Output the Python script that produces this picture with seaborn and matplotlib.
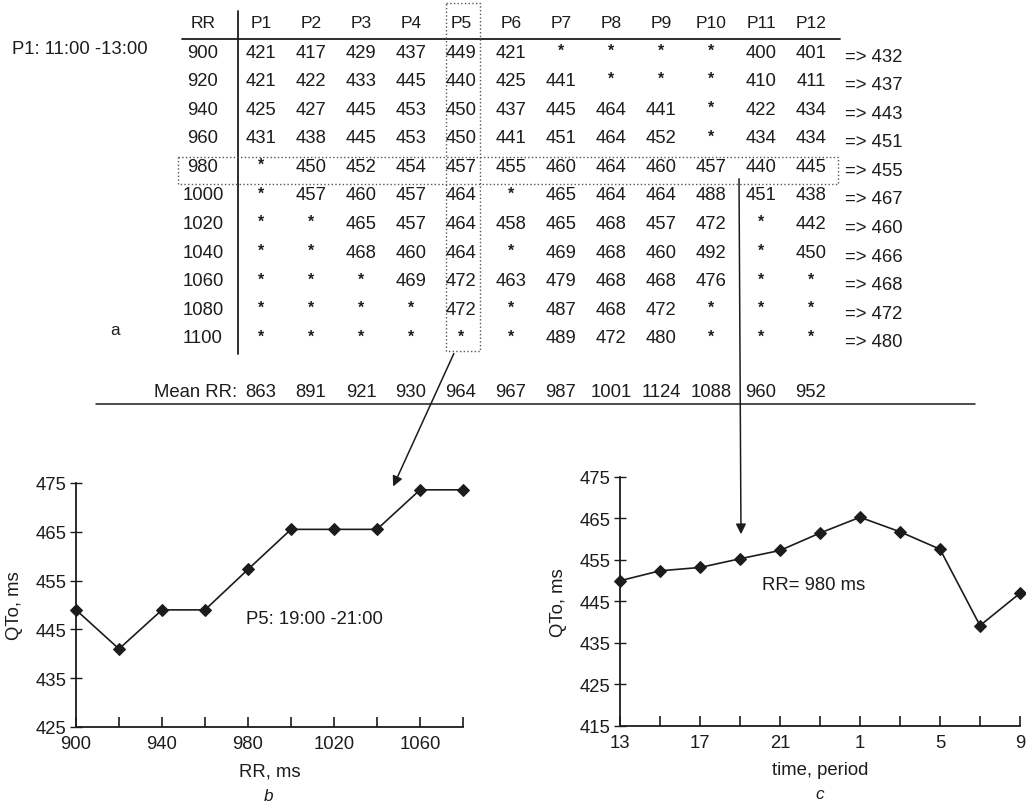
import matplotlib
matplotlib.use("Agg")
import matplotlib.pyplot as plt
import seaborn as sns
import numpy as np
import pandas as pd

# ---------------- data ----------------
rr_levels = [900, 920, 940, 960, 980, 1000, 1020, 1040, 1060, 1080, 1100]
periods = ["P1", "P2", "P3", "P4", "P5", "P6", "P7", "P8", "P9", "P10", "P11", "P12"]
N = None
row_900 = [421, 417, 429, 437, 449, 421, N, N, N, N, 400, 401]
row_920 = [421, 422, 433, 445, 440, 425, 441, N, N, N, 410, 411]
row_940 = [425, 427, 445, 453, 450, 437, 445, 464, 441, N, 422, 434]
row_960 = [431, 438, 445, 453, 450, 441, 451, 464, 452, N, 434, 434]
row_980 = [N, 450, 452, 454, 457, 455, 460, 464, 460, 457, 440, 445]
row_1000 = [N, 457, 460, 457, 464, N, 465, 464, 464, 488, 451, 438]
row_1020 = [N, N, 465, 457, 464, 458, 465, 468, 457, 472, N, 442]
row_1040 = [N, N, 468, 460, 464, N, 469, 468, 460, 492, N, 450]
row_1060 = [N, N, N, 469, 472, 463, 479, 468, 468, 476, N, N]
row_1080 = [N, N, N, N, 472, N, 487, 468, 472, N, N, N]
row_1100 = [N, N, N, N, N, N, 489, 472, 480, N, N, N]
table_rows = [row_900, row_920, row_940, row_960, row_980, row_1000,
              row_1020, row_1040, row_1060, row_1080, row_1100]
row_means = [432, 437, 443, 451, 455, 467, 460, 466, 468, 472, 480]
mean_rr = [863, 891, 921, 930, 964, 967, 987, 1001, 1124, 1088, 960, 952]

# panel b: QTo vs RR for P5
b_rr = [900, 920, 940, 960, 980, 1000, 1020, 1040, 1060, 1080]
b_qto = [449, 441, 449, 449, 457.3, 465.5, 465.5, 465.5, 473.6, 473.6]
b_xticklabels = ["900", "", "940", "", "980", "", "1020", "", "1060", ""]

# panel c: QTo over time at RR = 980 ms
c_time = ["13", "15", "17", "19", "21", "23", "1", "3", "5", "7", "9"]
c_time_labels = ["13", "", "17", "", "21", "", "1", "", "5", "", "9"]
c_qto = [450, 452.4, 453.2, 455.3, 457.3, 461.5, 465.3, 461.8, 457.6, 439.2, 447]

# ---------------- style ----------------
sns.set_style("ticks")
plt.rcParams["font.family"] = ["Liberation Sans", "DejaVu Sans"]
INK = "#1c1c1c"
FS = 13.3

W, H = 1026, 804
fig = plt.figure(figsize=(W / 100, H / 100), dpi=100)

# overlay axes in pixel coordinates for the table part
ov = fig.add_axes([0, 0, 1, 1], zorder=5)
ov.set_xlim(0, W)
ov.set_ylim(H, 0)
ov.axis("off")
ov.patch.set_visible(False)

col_x0, col_dx = 261, 50.0
rr_x = 203
row_y0, row_dy = 53, 28.6
col_xs = [col_x0 + i * col_dx for i in range(len(periods))]
row_ys = [row_y0 + i * row_dy for i in range(len(rr_levels))]

# header
ov.text(rr_x, 24, "RR", ha="center", va="center", fontsize=FS - 0.8, color=INK)
for x, p in zip(col_xs, periods):
    ov.text(x, 24, p, ha="center", va="center", fontsize=FS - 0.8, color=INK)

# body
for y, rr, row, m in zip(row_ys, rr_levels, table_rows, row_means):
    ov.text(rr_x, y, str(rr), ha="center", va="center", fontsize=FS, color=INK)
    for x, v in zip(col_xs, row):
        if v is None:
            ov.text(x, y - 2, "*", ha="center", va="center", fontsize=FS - 2,
                    fontweight="bold", color=INK)
        else:
            ov.text(x, y, str(v), ha="center", va="center", fontsize=FS, color=INK)
    ov.text(845, y + 4, "=> " + str(m), ha="left", va="center", fontsize=FS, color=INK)

# mean RR row
ov.text(237, 393, "Mean RR:", ha="right", va="center", fontsize=FS, color=INK)
for x, v in zip(col_xs, mean_rr):
    ov.text(x, 393, str(v), ha="center", va="center", fontsize=FS, color=INK)

# side labels
ov.text(12, 50, "P1: 11:00 -13:00", ha="left", va="center", fontsize=FS, color=INK)
ov.text(115, 331, "a", ha="center", va="center", fontsize=FS - 1, color=INK)

# table rules
ov.plot([182, 840], [40, 40], color=INK, lw=1.3)
ov.plot([238, 238], [12, 355], color=INK, lw=1.3)
ov.plot([96, 975], [405, 405], color=INK, lw=1.1)
# dotted boxes
ov.plot([446, 480, 480, 446, 446], [4, 4, 352, 352, 4], color="#555555", lw=1.0, ls=":")
ov.plot([178, 838, 838, 178, 178], [158, 158, 185, 185, 158], color="#555555", lw=1.0, ls=":")

# arrows
ov.annotate("", xy=(392, 490), xytext=(455, 352),
            arrowprops=dict(arrowstyle="-|>", color=INK, lw=1.1, mutation_scale=15))
ov.annotate("", xy=(741, 538), xytext=(739, 177),
            arrowprops=dict(arrowstyle="-|>", color=INK, lw=1.1, mutation_scale=15))

# panel letters
ov.text(268, 797, "b", ha="center", va="center", fontsize=FS - 1, style="italic", color=INK)
ov.text(820, 795, "c", ha="center", va="center", fontsize=FS - 1, style="italic", color=INK)


def px_axes(left, right, top, bottom):
    return fig.add_axes([left / W, 1 - bottom / H, (right - left) / W, (bottom - top) / H])


def style_axes(ax):
    sns.despine(ax=ax)
    for s in ["left", "bottom"]:
        ax.spines[s].set_color(INK)
        ax.spines[s].set_linewidth(1.3)
    ax.tick_params(axis="x", direction="in", length=7, width=1.2, pad=6,
                   labelsize=FS, colors=INK)
    ax.tick_params(axis="y", direction="inout", length=8, width=1.0, pad=3,
                   labelsize=FS, colors=INK)
    ax.patch.set_visible(False)


# ---------------- panel b ----------------
axb = px_axes(76, 463, 484, 728)
df_b = pd.DataFrame({"RR": b_rr, "QTo": b_qto})
sns.lineplot(data=df_b, x="RR", y="QTo", ax=axb, color=INK, lw=1.2,
             marker="D", markersize=6, markeredgecolor=INK)
axb.set_xlim(900, 1080)
axb.set_ylim(425, 475)
axb.set_xticks(b_rr)
axb.set_xticklabels(b_xticklabels)
axb.set_yticks([425, 435, 445, 455, 465, 475])
axb.set_xlabel("RR, ms", fontsize=FS, color=INK, labelpad=7)
axb.set_ylabel("QTo, ms", fontsize=FS, color=INK, labelpad=9)
style_axes(axb)
axb.text(1010.7, 447.3, "P5: 19:00 -21:00", ha="center", va="center", fontsize=FS, color=INK)

# ---------------- panel c ----------------
axc = px_axes(620, 1020, 478, 727)
df_c = pd.DataFrame({"pos": np.arange(len(c_time)), "QTo": c_qto})
sns.lineplot(data=df_c, x="pos", y="QTo", ax=axc, color=INK, lw=1.2,
             marker="D", markersize=6, markeredgecolor=INK)
axc.set_xlim(0, len(c_time) - 1)
axc.set_ylim(415, 475)
axc.set_xticks(np.arange(len(c_time)))
axc.set_xticklabels(c_time_labels)
axc.set_yticks([415, 425, 435, 445, 455, 465, 475])
axc.set_xlabel("time, period", fontsize=FS, color=INK, labelpad=7)
axc.set_ylabel("QTo, ms", fontsize=FS, color=INK, labelpad=9)
style_axes(axc)
axc.text(4.85, 449, "RR= 980 ms", ha="center", va="center", fontsize=FS, color=INK)
for ax in (axb, axc):
    for l in ax.get_lines():
        l.set_clip_on(False)

fig.savefig("out.png", dpi=100, facecolor="white")
